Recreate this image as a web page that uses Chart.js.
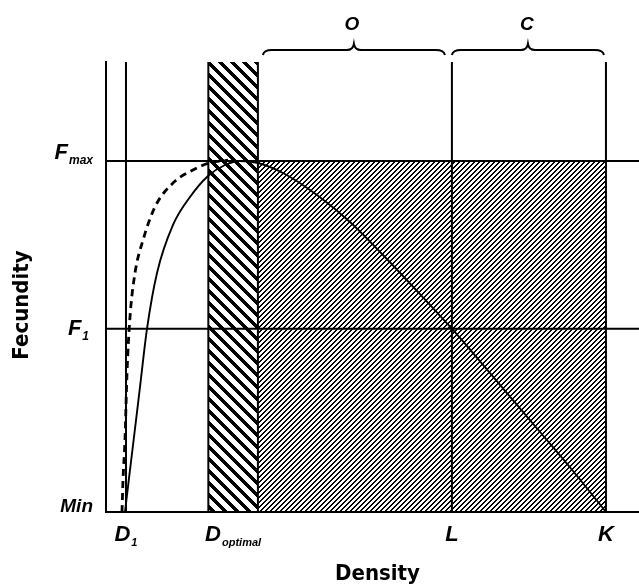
<!DOCTYPE html>
<html>
<head>
<meta charset="utf-8">
<script src="https://cdn.jsdelivr.net/npm/chart.js@4/dist/chart.umd.min.js"></script>
<style>
  html, body { margin: 0; padding: 0; background: #fff; }
  #wrap { width: 639px; height: 587px; }
</style>
</head>
<body>
<div id="wrap"><canvas id="chart" width="639" height="587"></canvas></div>
<script>
// density axis runs 0..100, fecundity axis 0..100 (Min at 0)
const densityMarks = [3.75, 23.85, 64.9, 93.8];
const densityMain = ['D', 'D', 'L', 'K'];
const densitySub = ['1', 'optimal', '', ''];

const optimalBand = [19.2, 28.5];
const verticalLines = [3.75, 19.2, 28.5, 64.9, 93.8];

const fecundityMarks = [0, 40.7, 78];
const fecundityMain = ['Min', 'F', 'F'];
const fecunditySub = ['', '1', 'max'];

const braceLabels = ['O', 'C'];

// solid curve
const solidX = [3.56, 4.32, 5.07, 6.38, 7.69, 9.57, 12.57, 15.76, 19.14, 22.33, 25.14, 28.52, 33.21, 39.59, 45.78, 51.97, 58.35, 64.92, 68.86, 75.23, 81.43, 87.62, 93.81];
const solidY = [0, 7.56, 14.89, 27.78, 40.67, 53.11, 63.78, 70, 74.67, 77.11, 78, 77.56, 75.33, 70.44, 64.44, 57.11, 49.11, 40.67, 35.33, 26.44, 17.78, 9.11, 0];

// dashed curve
const dashedX = [3.0, 3.19, 3.56, 3.94, 4.5, 5.44, 6.94, 9.19, 12.57, 16.3, 19.5, 22.9];
const dashedY = [0, 7.1, 16, 30.9, 43.3, 53.1, 60.4, 67.8, 73.1, 76, 77.6, 78.2];

const canvas = document.getElementById('chart');
const ctx = canvas.getContext('2d');

function hatch(period, width, forward) {
    const tile = document.createElement('canvas');
    tile.width = period;
    tile.height = period;
    const g = tile.getContext('2d');
    const img = g.createImageData(period, period);
    for (let y = 0; y < period; y++) {
        for (let x = 0; x < period; x++) {
            const k = forward ? (x + y) % period : ((x - y) % period + period) % period;
            const i = (y * period + x) * 4;
            img.data[i + 3] = k < width ? 255 : 0;
        }
    }
    g.putImageData(img, 0, 0);
    return ctx.createPattern(tile, 'repeat');
}

const densePattern = hatch(5, 2, true);
const coarsePattern = hatch(12, 5, false);

const toPoints = (xs, ys) => xs.map((x, i) => ({ x: x, y: ys[i] }));
const lineStyle = { borderColor: '#000', borderWidth: 2, pointRadius: 0, fill: false, order: 1 };

const datasets = [
    { data: [{ x: optimalBand[1], y: fecundityMarks[2] }, { x: densityMarks[3], y: fecundityMarks[2] }],
      borderWidth: 0, pointRadius: 0, fill: 'origin', backgroundColor: densePattern, order: 20 },
    { data: [{ x: optimalBand[0], y: 100 }, { x: optimalBand[1], y: 100 }],
      borderWidth: 0, pointRadius: 0, fill: 'origin', backgroundColor: coarsePattern, order: 19 },
    Object.assign({ data: [{ x: 0, y: fecundityMarks[2] }, { x: 100, y: fecundityMarks[2] }] }, lineStyle),
    Object.assign({ data: [{ x: 0, y: fecundityMarks[1] }, { x: 100, y: fecundityMarks[1] }] }, lineStyle),
    { data: toPoints(solidX, solidY), borderColor: '#000', borderWidth: 1.9, pointRadius: 0,
      fill: false, tension: 0.4, cubicInterpolationMode: 'monotone', order: 0 },
    { data: toPoints(dashedX, dashedY), borderColor: '#000', borderWidth: 2.8, borderDash: [7, 5],
      pointRadius: 0, fill: false, tension: 0.4, cubicInterpolationMode: 'monotone', order: 0 }
];
verticalLines.forEach(v => {
    datasets.push(Object.assign({ data: [{ x: v, y: 0 }, { x: v, y: 100 }] }, lineStyle));
});

function drawLabel(c, main, sub, x, y, align, size, subSize) {
    c.font = 'italic bold ' + size + 'px "Liberation Sans", Arial, sans-serif';
    const wMain = c.measureText(main).width;
    c.font = 'italic bold ' + subSize + 'px "Liberation Sans", Arial, sans-serif';
    const wSub = sub ? c.measureText(sub).width + 1 : 0;
    const total = wMain + wSub;
    let x0 = x - total / 2;
    if (align === 'right') x0 = x - total;
    c.textAlign = 'left';
    c.textBaseline = 'alphabetic';
    c.font = 'italic bold ' + size + 'px "Liberation Sans", Arial, sans-serif';
    c.fillText(main, x0, y);
    if (sub) {
        c.font = 'italic bold ' + subSize + 'px "Liberation Sans", Arial, sans-serif';
        c.fillText(sub, x0 + wMain + 1, y + 5);
    }
}

function drawBrace(c, x1, x2, y) {
    const mid = (x1 + x2) / 2;
    c.beginPath();
    c.moveTo(x1, y + 5);
    c.quadraticCurveTo(x1 + 1, y, x1 + 9, y);
    c.lineTo(mid - 7, y);
    c.quadraticCurveTo(mid - 1, y, mid, y - 6);
    c.quadraticCurveTo(mid + 1, y, mid + 7, y);
    c.lineTo(x2 - 9, y);
    c.quadraticCurveTo(x2 - 1, y, x2, y + 5);
    c.stroke();
}

const annotations = {
    id: 'annotations',
    afterDraw(chart) {
        const c = chart.ctx;
        const xs = chart.scales.x;
        const ys = chart.scales.y;
        const area = chart.chartArea;
        c.save();
        c.fillStyle = '#000';
        c.strokeStyle = '#000';

        // density tick labels
        densityMarks.forEach((v, i) => {
            drawLabel(c, densityMain[i], densitySub[i], xs.getPixelForValue(v), area.bottom + 29, 'center', 22, 11);
        });

        // fecundity tick labels
        const yShift = [0, 6, -2];
        const xRight = [93, 89, 93];
        fecundityMarks.forEach((v, i) => {
            const size = i === 0 ? 19 : 22;
            drawLabel(c, fecundityMain[i], fecunditySub[i], xRight[i], ys.getPixelForValue(v) + yShift[i], 'right', size, 12);
        });

        // braces over the O and C stretches
        c.lineWidth = 2;
        const oLeft = xs.getPixelForValue(optimalBand[1]) + 5;
        const oRight = xs.getPixelForValue(densityMarks[2]) - 7;
        const cLeft = xs.getPixelForValue(densityMarks[2]);
        const cRight = xs.getPixelForValue(densityMarks[3]) - 2;
        drawBrace(c, oLeft, oRight, 50);
        drawBrace(c, cLeft, cRight, 50);
        c.font = 'italic bold 19px "Liberation Sans", Arial, sans-serif';
        c.textAlign = 'center';
        c.textBaseline = 'middle';
        c.fillText(braceLabels[0], (oLeft + oRight) / 2 - 2, 25);
        c.fillText(braceLabels[1], (cLeft + cRight) / 2 - 1, 25);

        // axis titles
        c.font = 'bold 22px "Liberation Sans Narrow", "DejaVu Sans Condensed", sans-serif';
        c.fillText('Density', (area.left + area.right) / 2 + 5, 574);
        c.translate(22, 305);
        c.rotate(-Math.PI / 2);
        c.fillText('Fecundity', 0, 0);
        c.restore();
    }
};

new Chart(ctx, {
    type: 'line',
    data: { datasets: datasets },
    plugins: [annotations],
    options: {
        responsive: false,
        animation: false,
        layout: { padding: { top: 62, left: 0, right: 0, bottom: 0 } },
        plugins: { legend: { display: false }, tooltip: { enabled: false } },
        scales: {
            x: {
                type: 'linear', min: 0, max: 100,
                grid: { display: false },
                border: { display: true, color: '#000', width: 2 },
                ticks: { display: false },
                afterFit: (s) => { s.height = 75; }
            },
            y: {
                type: 'linear', min: 0, max: 100,
                grid: { display: false },
                border: { display: true, color: '#000', width: 2 },
                ticks: { display: false },
                afterFit: (s) => { s.width = 106; }
            }
        }
    }
});
</script>
</body>
</html>
